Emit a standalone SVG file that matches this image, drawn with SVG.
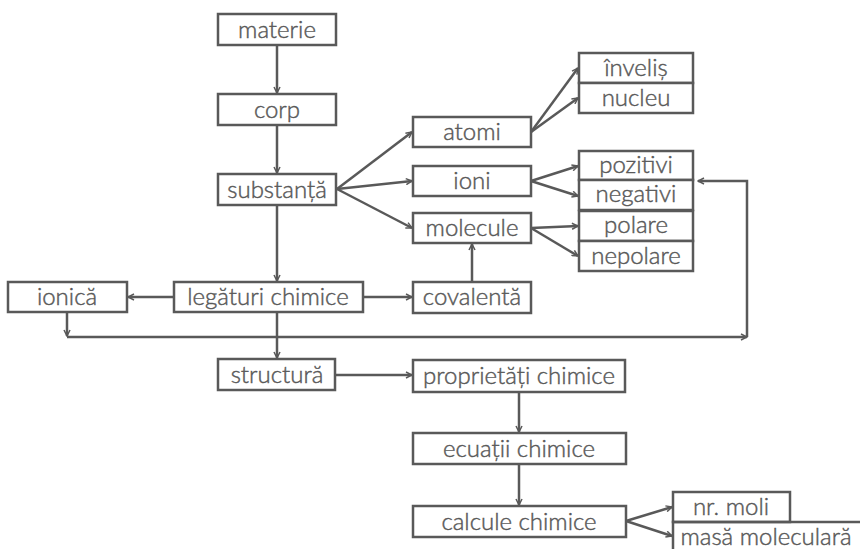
<svg xmlns="http://www.w3.org/2000/svg" width="860" height="549" viewBox="0 0 860 549">
  <style>
    .box { fill: #ffffff; stroke: #595959; stroke-width: 2.5; }
    .lbl { font-family: "Lato", "Liberation Sans", sans-serif; font-size: 24px; font-weight: 300; fill: #595959; stroke: #595959; stroke-width: 0.45; text-anchor: middle; }
    .con { fill: none; stroke: #595959; stroke-width: 2.5; marker-end: url(#arr); }
    .plain { fill: none; stroke: #595959; stroke-width: 2.5; }
  </style>
  <defs>
    <marker id="arr" viewBox="0 0 10 10" refX="9" refY="5" markerWidth="3" markerHeight="3" orient="auto" markerUnits="strokeWidth">
      <path d="M1,1 L9,5 L1,9" fill="none" stroke="#595959" stroke-width="2"/>
    </marker>
  </defs>
  <rect width="860" height="549" fill="#ffffff"/>

  <g id="connectors">
    <path class="con" d="M277,45 V93"/>
    <path class="con" d="M277,125 V173"/>
    <path class="con" d="M277,205 V281"/>
    <path class="con" d="M337,189 L412,132"/>
    <path class="con" d="M337,189 L412,181"/>
    <path class="con" d="M337,189 L412,228"/>
    <path class="con" d="M531,132 L578,68"/>
    <path class="con" d="M531,132 L578,98"/>
    <path class="con" d="M531,181 L578,166"/>
    <path class="con" d="M531,181 L578,196"/>
    <path class="con" d="M531,228 L578,226"/>
    <path class="con" d="M531,228 L578,256"/>
    <path class="con" d="M472,281 V244"/>
    <path class="con" d="M363,297 H412"/>
    <path class="con" d="M174,297 H128"/>
    <path class="con" d="M67,312 V336"/>
    <path class="con" d="M67,337 H747"/>
    <path class="con" d="M747,337 V181 H698"/>
    <path class="con" d="M277,312 V358"/>
    <path class="con" d="M335,375 H412"/>
    <path class="con" d="M519,392 V432"/>
    <path class="con" d="M519,464 V505"/>
    <path class="con" d="M626,521 L672,507"/>
    <path class="con" d="M626,521 L672,536"/>
  </g>

  <g id="materie"><rect class="box" x="218" y="14" width="118" height="31"/><text class="lbl" x="277" y="38">materie</text></g>
  <g id="corp"><rect class="box" x="218" y="94" width="118" height="31"/><text class="lbl" x="277" y="118">corp</text></g>
  <g id="substanta"><rect class="box" x="218" y="174" width="118" height="31"/><text class="lbl" x="277" y="198">substanță</text></g>

  <g id="atomi"><rect class="box" x="413" y="117" width="118" height="30"/><text class="lbl" x="472" y="140">atomi</text></g>
  <g id="ioni"><rect class="box" x="413" y="166" width="118" height="30"/><text class="lbl" x="472" y="189">ioni</text></g>
  <g id="molecule"><rect class="box" x="413" y="213" width="118" height="30"/><text class="lbl" x="472" y="236">molecule</text></g>

  <g id="invelis"><rect class="box" x="579" y="53" width="114" height="30"/><text class="lbl" x="636" y="76">înveliș</text></g>
  <g id="nucleu"><rect class="box" x="579" y="83" width="114" height="30"/><text class="lbl" x="636" y="106">nucleu</text></g>
  <g id="pozitivi"><rect class="box" x="579" y="151" width="114" height="29"/><text class="lbl" x="636" y="173">pozitivi</text></g>
  <g id="negativi"><rect class="box" x="579" y="180" width="114" height="30"/><text class="lbl" x="636" y="202">negativi</text></g>
  <g id="polare"><rect class="box" x="579" y="211" width="114" height="30"/><text class="lbl" x="636" y="233">polare</text></g>
  <g id="nepolare"><rect class="box" x="579" y="241" width="114" height="30"/><text class="lbl" x="636" y="264">nepolare</text></g>

  <g id="ionica"><rect class="box" x="8" y="282" width="119" height="30"/><text class="lbl" x="67" y="305">ionică</text></g>
  <g id="legaturi"><rect class="box" x="174" y="282" width="189" height="30"/><text class="lbl" x="268" y="305">legături chimice</text></g>
  <g id="covalenta"><rect class="box" x="413" y="282" width="118" height="31"/><text class="lbl" x="472" y="305">covalentă</text></g>

  <g id="structura"><rect class="box" x="218" y="359" width="117" height="31"/><text class="lbl" x="277" y="383">structură</text></g>
  <g id="proprietati"><rect class="box" x="413" y="360" width="212" height="32"/><text class="lbl" x="519" y="384">proprietăți chimice</text></g>
  <g id="ecuatii"><rect class="box" x="413" y="433" width="213" height="31"/><text class="lbl" x="519" y="457">ecuații chimice</text></g>
  <g id="calcule"><rect class="box" x="413" y="506" width="213" height="31"/><text class="lbl" x="519" y="530">calcule chimice</text></g>

  <g id="nr-moli"><rect class="box" x="673" y="492" width="117" height="30"/><text class="lbl" x="731" y="515">nr. moli</text></g>
  <g id="masa-moleculara"><path class="plain" d="M673,549 V522 H862"/><text class="lbl" x="766" y="545">masă moleculară</text></g>
</svg>
